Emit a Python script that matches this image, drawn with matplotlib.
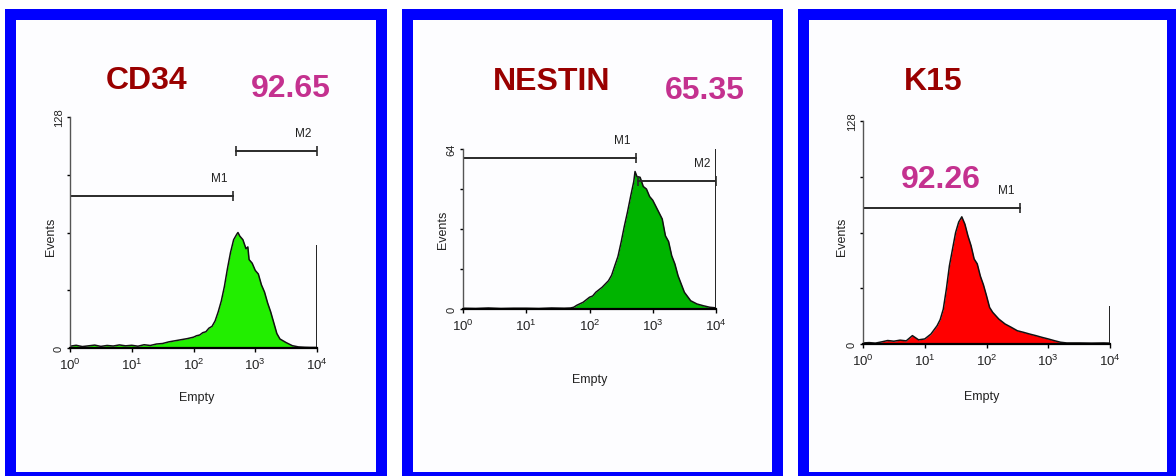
import numpy as np
import matplotlib.pyplot as plt
from matplotlib.patches import Rectangle

W, H = 1176, 477
ARIAL = ['Liberation Sans', 'DejaVu Sans']

# histogram outlines: log10(channel) positions and event counts
cd34_pos = [0.0, 0.1, 0.2, 0.3, 0.4, 0.5, 0.6, 0.7, 0.8, 0.9, 1.0, 1.1, 1.2, 1.3, 1.4,
            1.5, 1.6, 1.7, 1.8, 1.9, 2.0, 2.05, 2.1, 2.15, 2.2, 2.25, 2.3, 2.35, 2.4,
            2.45, 2.5, 2.55, 2.6, 2.65, 2.7, 2.72, 2.75, 2.8, 2.85, 2.88, 2.9, 2.95,
            3.0, 3.05, 3.1, 3.15, 3.2, 3.25, 3.3, 3.35, 3.4, 3.45, 3.5, 3.6, 3.7,
            3.8, 3.9, 3.98]
cd34_events = [1.0, 1.5, 0.8, 1.2, 1.6, 0.9, 1.4, 1.1, 1.7, 1.2, 1.5, 1.0, 1.8, 1.4, 2.2,
               2.5, 3.4, 4.0, 4.6, 5.2, 6.0, 6.8, 7.2, 8.5, 9.0, 11, 12, 15, 20,
               26, 34, 44, 53, 60, 63, 64, 62, 60, 55, 56, 49, 47,
               43, 41, 35, 31, 25, 20, 14, 8, 5, 4, 3, 1.3, 0.6,
               0.4, 0.3, 0.3]
cd34_last = 57

nestin_pos = [0.0, 0.2, 0.4, 0.6, 0.8, 1.0, 1.2, 1.4, 1.6, 1.7, 1.75, 1.8, 1.9, 2.0, 2.05,
              2.1, 2.2, 2.3, 2.35, 2.4, 2.45, 2.5, 2.55, 2.6, 2.65, 2.7, 2.72, 2.75, 2.8,
              2.85, 2.9, 2.95, 3.0, 3.05, 3.1, 3.15, 3.2, 3.25, 3.3, 3.35, 3.4, 3.45,
              3.5, 3.6, 3.7, 3.8, 3.9, 3.98]
nestin_events = [0.3, 0.2, 0.4, 0.2, 0.3, 0.3, 0.2, 0.4, 0.3, 0.4, 0.7, 1.5, 2.7, 4.7, 5.2,
                 6.7, 8.7, 11.3, 13.5, 17.3, 21, 26.7, 33, 38.7, 45, 51, 55, 53, 52.7,
                 49, 48, 45, 43.5, 41, 38.5, 36, 29.3, 27, 21.3, 18, 13.3, 10,
                 6.7, 3.3, 2.0, 1.3, 0.7, 0.5]
nestin_last = 70

k15_pos = [0.0, 0.1, 0.2, 0.3, 0.4, 0.5, 0.6, 0.7, 0.8, 0.9, 1.0, 1.1, 1.2, 1.25, 1.3,
           1.35, 1.4, 1.45, 1.5, 1.55, 1.6, 1.65, 1.7, 1.75, 1.8, 1.85, 1.9, 1.95, 2.0,
           2.05, 2.1, 2.2, 2.3, 2.4, 2.5, 2.6, 2.7, 2.8, 2.9, 3.0, 3.1, 3.2, 3.3, 3.5,
           3.7, 3.9, 3.98]
k15_events = [0.6, 0.8, 0.5, 1.2, 2.0, 1.6, 2.2, 1.8, 4.8, 2.4, 2.9, 5.7, 10.5, 14, 20,
              31.5, 45, 54.5, 64, 70, 73, 68.8, 62, 56.4, 48.8, 46, 39, 34, 27.7,
              21, 18.2, 14.3, 11.5, 9.6, 7.6, 6.7, 5.7, 4.8, 3.8, 2.9, 1.9, 1.0, 0.6, 0.6,
              0.5, 0.6, 0.5]
k15_last = 22

# marker gates: (name, start channel, end channel, height)
cd34_gates = [('M1', 1, 437, 84), ('M2', 490, 10000, 109)]
nestin_gates = [('M1', 1, 537, 60.4), ('M2', 575, 10000, 51)]
k15_gates = [('M1', 1, 347, 78)]

fig = plt.figure(figsize=(W / 100, H / 100), dpi=100)


def px(x, y):
    return x / W, 1 - y / H


def frame(x0, x1):
    fig.patches.append(Rectangle(px(x0, 484), (x1 - x0) / W, 474 / H,
                                 transform=fig.transFigure, facecolor='#0000FF',
                                 edgecolor='none', zorder=-2))
    fig.patches.append(Rectangle(px(x0 + 11, 473), (x1 - x0 - 22) / W, 452 / H,
                                 transform=fig.transFigure, facecolor='#FDFDFF',
                                 edgecolor='none', zorder=-1))


def panel(box, pos, events, last, ymax, fill, gates, title, title_xy, pct, pct_xy,
          ev_xy, empty_xy):
    left, right, top, bottom = box
    ax = fig.add_axes([left / W, 1 - bottom / H, (right - left) / W, (bottom - top) / H])
    ax.patch.set_alpha(0)
    ax.set_zorder(2)
    chan = 10 ** np.array(pos)
    ax.fill_between(chan, events, 0, color=fill, lw=0)
    ax.plot(chan, events, color='#111111', lw=1.1)
    ax.vlines(1e4, 0, last, color='#222222', lw=1.4)
    for name, g0, g1, gy in gates:
        ax.plot([g0, g1], [gy, gy], color='#2a2a2a', lw=1.4, marker='|', ms=7, mew=1.2)
        ax.annotate(name, (g1, gy), xytext=(-10, 13), textcoords='offset points',
                    ha='center', va='center', fontsize=8.5, family=ARIAL, color='#222222')
    ax.set_xscale('log')
    ax.set_xlim(1, 1e4)
    ax.set_ylim(0, ymax)
    ax.minorticks_off()
    ax.set_xticks([1, 10, 100, 1000, 10000])
    ax.set_xticklabels([r'$\mathregular{10^{%d}}$' % k for k in range(5)],
                       family=ARIAL, fontsize=9.5, color='#222222')
    step = ymax / 4
    ax.set_yticks([0, step, 2 * step, 3 * step, ymax])
    ax.set_yticklabels(['0', '', '', '', str(ymax)], rotation=90, va='center',
                       family=ARIAL, fontsize=8, color='#222222')
    ax.tick_params(axis='x', length=3, width=1, pad=3)
    ax.tick_params(axis='y', length=2.5, width=1, pad=2)
    for s in ['top', 'right']:
        ax.spines[s].set_visible(False)
    ax.spines['bottom'].set_linewidth(1.6)
    ax.spines['left'].set_linewidth(1.0)
    ax.spines['left'].set_color('#555555')

    fig.text(*px(*title_xy), title, ha='center', va='center', fontsize=23,
             fontweight='bold', family=ARIAL, color='#990000')
    fig.text(*px(*pct_xy), pct, ha='center', va='center', fontsize=23,
             fontweight='bold', family=ARIAL, color='#C4318F')
    fig.text(*px(*ev_xy), 'Events', ha='center', va='center', rotation=90,
             fontsize=9, family=ARIAL, color='#222222')
    fig.text(*px(*empty_xy), 'Empty', ha='center', va='center', fontsize=9,
             family=ARIAL, color='#222222')


frame(5, 387)
frame(402, 783)
frame(798, 1178)

panel((70, 317, 118, 349), cd34_pos, cd34_events, cd34_last, 128, '#22EE00',
      cd34_gates, 'CD34', (147, 81), '92.65', (291, 89), (51, 237), (197, 398))
panel((463, 716, 150, 310), nestin_pos, nestin_events, nestin_last, 64, '#00B400',
      nestin_gates, 'NESTIN', (552, 82), '65.35', (705, 91), (443, 230), (590, 380))
panel((863, 1110, 122, 345), k15_pos, k15_events, k15_last, 128, '#FF0000',
      k15_gates, 'K15', (933, 82), '92.26', (941, 180), (842, 237), (982, 397))

fig.savefig('out.png', dpi=100)
